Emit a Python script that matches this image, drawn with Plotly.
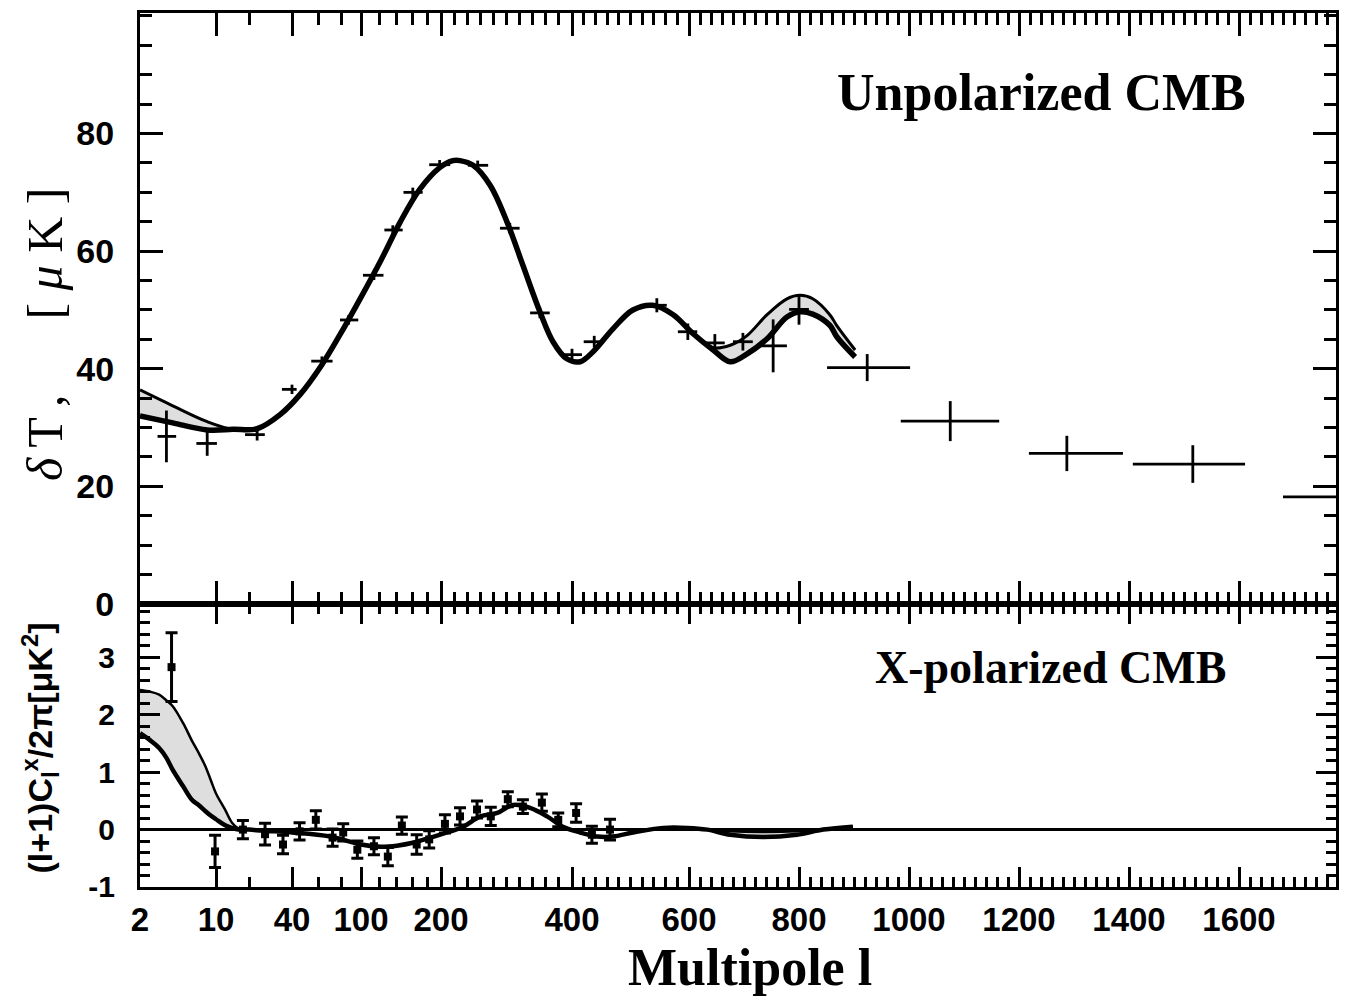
import numpy as np
import plotly.graph_objects as go

# ---------------- axis scale (multipole l -> horizontal axis units) ----------------
SCALE_LOW_L = [2, 10, 20, 40, 60, 80, 100, 120, 140, 160, 180, 200]
SCALE_LOW_U = [140, 216, 249, 292, 318, 341, 361, 379, 396, 412, 427, 441]
SCALE_HIGH_L = [200, 400, 600, 800, 1000, 1200, 1400, 1600, 1900]
SCALE_HIGH_U = [441, 572, 689, 799, 909, 1019, 1129, 1239, 1404]


def lx(l):
    l = np.asarray(l, dtype=float)
    low = np.interp(np.log(l), np.log(SCALE_LOW_L), SCALE_LOW_U)
    high = np.interp(l, SCALE_HIGH_L, SCALE_HIGH_U)
    return np.where(l < 200, low, high)


# ---------------- tick labels ----------------
X_MAJOR = [2, 10, 40, 100, 200, 400, 600, 800, 1000, 1200, 1400, 1600]
X_MAJOR_TEXT = ["2", "10", "40", "100", "200", "400", "600", "800", "1000", "1200", "1400", "1600"]
X_MINOR = [20, 60, 80] + [v for v in range(120, 1780, 20) if v not in X_MAJOR]
Y_TOP_TICKS = [0, 20, 40, 60, 80]
Y_TOP_TEXT = ["0", "20", "40", "60", "80"]
Y_BOT_TICKS = [-1, 0, 1, 2, 3]
Y_BOT_TEXT = ["-1", "0", "1", "2", "3"]

# ---------------- upper panel: unpolarized data ----------------
UP_L = [3.5, 8.3, 22.8, 40, 63, 87, 114, 136, 161, 198, 256, 305, 351, 400, 438,
        545, 598, 647, 698, 753, 800, 924, 1075, 1287, 1516, 1790]
UP_V = [28.5, 27.3, 28.8, 36.5, 41.3, 48.3, 55.9, 63.6, 70.0, 74.7, 74.6, 63.9, 49.5, 42.4, 44.6,
        50.8, 46.3, 44.4, 44.6, 43.9, 50.1, 40.2, 31.1, 25.6, 23.8, 18.2]
UP_ERR = [4.4, 2.1, 1.0, 0.8, 0.8, 0.8, 0.8, 0.8, 0.8, 0.8, 0.8, 0.9, 0.9, 1.0, 1.0,
          1.2, 1.4, 1.5, 1.5, 4.5, 2.6, 2.3, 3.4, 3.0, 3.2, 0.0]
UP_BIN_LO = [2.9, 6.6, 18.4, 34, 54, 79, 102, 126, 149, 183, 241, 290, 336, 386, 420,
             528, 581, 629, 680, 729, 782, 851, 985, 1218, 1407, 1680]
UP_BIN_HI = [4.3, 10.2, 25.8, 43, 72, 97, 125, 148, 174, 214, 272, 320, 366, 417, 455,
             562, 615, 665, 716, 778, 818, 1002, 1164, 1389, 1611, 1900]

# upper panel model curves (band edges)
UPC_L = [2, 4, 8.3, 14.3, 22.8, 33, 45.3, 63, 79, 99, 122.6, 144.8, 170, 198, 218, 229, 249, 275,
         301, 325, 351, 371, 392, 414, 436, 470, 504, 538, 573, 607, 644, 675, 705, 742, 778, 802,
         825, 856, 869, 902]
UPC_A = [36.4, 33.7, 31.0, 29.7, 29.8, 32.2, 35.6, 40.7, 45.8, 51.9, 58.6, 64.9, 70.5, 74.2, 75.4,
         75.4, 74.6, 71.2, 64.9, 57.6, 49.7, 44.6, 41.7, 41.2, 42.9, 46.8, 50.0, 50.8, 49.2, 46.0,
         43.6, 44.0, 45.6, 49.2, 51.9, 52.5, 51.9, 49.2, 47.3, 43.2]
UPC_B = [32.0, 30.8, 29.6, 29.7, 29.8, 32.2, 35.6, 40.7, 45.8, 51.9, 58.6, 64.9, 70.5, 74.2, 75.4,
         75.4, 74.6, 71.2, 64.9, 57.6, 49.7, 44.6, 41.7, 41.2, 42.9, 46.8, 50.0, 50.8, 49.2, 46.0,
         43.2, 41.2, 42.5, 45.1, 48.8, 49.7, 49.3, 47.4, 45.4, 42.0]

# ---------------- lower panel: X-polarized data ----------------
LO_L = [3.9, 9.8, 17.6, 25.9, 34.6, 45, 58, 72, 82, 96, 114, 130, 147, 166, 183, 206, 229,
        255, 276, 302, 325, 354, 379, 407, 434, 465]
LO_V = [2.83, -0.38, 0.0, -0.08, -0.26, -0.03, 0.17, -0.14, -0.05, -0.35, -0.29, -0.47, 0.07,
        -0.26, -0.17, 0.1, 0.23, 0.35, 0.23, 0.53, 0.4, 0.47, 0.17, 0.29, -0.09, 0.0]
LO_ERR = [0.6, 0.28, 0.16, 0.19, 0.16, 0.15, 0.16, 0.15, 0.15, 0.15, 0.15, 0.16, 0.15, 0.17,
          0.15, 0.16, 0.15, 0.15, 0.16, 0.13, 0.12, 0.15, 0.12, 0.16, 0.15, 0.18]

LOC_L = [2, 2.5, 3, 3.5, 4, 5, 6, 7, 8, 9, 10, 12, 14, 16, 20, 25, 40, 70, 100, 122, 141, 161,
         209, 234, 260, 286, 310, 336, 362, 386, 414, 443, 470, 504, 556, 597, 633, 675, 735,
         796, 844, 898]
LOC_A = [2.43, 2.40, 2.35, 2.25, 2.15, 1.85, 1.55, 1.32, 1.10, 0.85, 0.63, 0.36, 0.12, 0.02,
         0.0, -0.02, -0.05, -0.12, -0.26, -0.30, -0.28, -0.23, -0.05, 0.05, 0.23, 0.29, 0.43,
         0.38, 0.23, 0.05, -0.05, -0.12, -0.12, -0.05, 0.03, 0.03, 0.0, -0.03, -0.04, -0.03,
         0.0, 0.05]
LOC_B = [1.68, 1.55, 1.42, 1.25, 1.04, 0.75, 0.52, 0.42, 0.32, 0.24, 0.18, 0.08, 0.03, 0.0,
         0.0, -0.02, -0.05, -0.12, -0.26, -0.30, -0.28, -0.23, -0.05, 0.05, 0.23, 0.29, 0.43,
         0.38, 0.23, 0.05, -0.05, -0.12, -0.12, -0.05, 0.03, 0.03, 0.0, -0.09, -0.13, -0.09,
         0.0, 0.05]

# ---------------- figure ----------------
BOLD_SANS = "Liberation Sans, Arial, sans-serif"
SERIF = "Liberation Serif, Times New Roman, serif"
X0, X1 = 140, 1336
SPLIT = 0.3238
BAND = "rgba(160,160,160,0.35)"

fig = go.Figure()

# upper curves with grey band
fig.add_trace(go.Scatter(x=lx(UPC_L), y=UPC_B, mode="lines", line=dict(color="black", width=5.5, shape="spline"),
                         xaxis="x2", yaxis="y2", showlegend=False, hoverinfo="skip"))
fig.add_trace(go.Scatter(x=lx(UPC_L), y=UPC_A, mode="lines", line=dict(color="black", width=3, shape="spline"),
                         fill="tonexty", fillcolor=BAND,
                         xaxis="x2", yaxis="y2", showlegend=False, hoverinfo="skip"))

up_x = lx(UP_L)
fig.add_trace(go.Scatter(
    x=up_x, y=UP_V, mode="markers", marker=dict(size=1, color="black"),
    error_x=dict(type="data", symmetric=False, array=lx(UP_BIN_HI) - up_x,
                 arrayminus=up_x - lx(UP_BIN_LO), color="black", thickness=2.8, width=0),
    error_y=dict(type="data", array=UP_ERR, color="black", thickness=2.8, width=0),
    xaxis="x2", yaxis="y2", showlegend=False))

# lower curves with grey band
fig.add_trace(go.Scatter(x=lx(LOC_L), y=LOC_B, mode="lines", line=dict(color="black", width=4.5, shape="spline"),
                         xaxis="x", yaxis="y", showlegend=False, hoverinfo="skip"))
fig.add_trace(go.Scatter(x=lx(LOC_L), y=LOC_A, mode="lines", line=dict(color="black", width=2.5, shape="spline"),
                         fill="tonexty", fillcolor=BAND,
                         xaxis="x", yaxis="y", showlegend=False, hoverinfo="skip"))

fig.add_trace(go.Scatter(
    x=lx(LO_L), y=LO_V, mode="markers", marker=dict(size=8, color="black", symbol="square"),
    error_y=dict(type="data", array=LO_ERR, color="black", thickness=3, width=6),
    xaxis="x", yaxis="y", showlegend=False))

axis_common = dict(showline=True, linecolor="black", linewidth=3, mirror="allticks",
                   ticks="inside", tickcolor="black", showgrid=False, zeroline=False)

fig.update_layout(
    width=1349, height=1005,
    margin=dict(l=X0, r=1349 - X1, t=10, b=118),
    paper_bgcolor="white", plot_bgcolor="white",
    xaxis=dict(**axis_common, range=[X0, X1], domain=[0, 1], anchor="y",
               tickmode="array", tickvals=lx(X_MAJOR), ticktext=X_MAJOR_TEXT,
               ticklen=20, tickwidth=3, ticklabelstandoff=1,
               tickfont=dict(family=BOLD_SANS, size=33, color="black", weight="bold"),
               minor=dict(tickvals=lx(X_MINOR), ticklen=10, tickwidth=2.5, ticks="inside",
                          tickcolor="black", showgrid=False)),
    xaxis2=dict(**axis_common, range=[X0, X1], domain=[0, 1], anchor="y2", matches="x",
                tickmode="array", tickvals=lx(X_MAJOR), showticklabels=False,
                ticklen=23, tickwidth=3,
                minor=dict(tickvals=lx(X_MINOR), ticklen=12, tickwidth=2.5, ticks="inside",
                           tickcolor="black", showgrid=False)),
    yaxis=dict(showline=True, linecolor="black", linewidth=3, mirror="allticks",
               ticks="inside", tickcolor="black", showgrid=False,
               zeroline=True, zerolinecolor="black", zerolinewidth=3,
               range=[-1, 3.93], domain=[0, SPLIT], anchor="x",
               tickmode="array", tickvals=Y_BOT_TICKS, ticktext=Y_BOT_TEXT,
               ticklen=20, tickwidth=3, ticklabelstandoff=16,
               tickfont=dict(family=BOLD_SANS, size=30, color="black", weight="bold"),
               minor=dict(dtick=0.2, tick0=0, ticklen=10, tickwidth=2.5, ticks="inside",
                          tickcolor="black", showgrid=False)),
    yaxis2=dict(**axis_common, range=[0, 100.5], domain=[SPLIT, 1], anchor="x2",
                tickmode="array", tickvals=Y_TOP_TICKS, ticktext=Y_TOP_TEXT,
                ticklen=23, tickwidth=3, ticklabelstandoff=16,
                tickfont=dict(family=BOLD_SANS, size=34, color="black", weight="bold"),
                minor=dict(dtick=5, tick0=0, ticklen=12, tickwidth=2.5, ticks="inside",
                           tickcolor="black", showgrid=False)),
)

W = X1 - X0
H = 1005 - 10 - 118


def px(xp):
    return (xp - X0) / W


def py(yp):
    return (887 - yp) / H


fig.add_annotation(text="<b>Unpolarized CMB</b>", x=px(1041), y=py(90), xref="paper", yref="paper",
                   showarrow=False, xanchor="center", yanchor="middle",
                   font=dict(family=SERIF, size=52, color="black"))
fig.add_annotation(text="<b>X-polarized CMB</b>", x=px(1050), y=py(667), xref="paper", yref="paper",
                   showarrow=False, xanchor="center", yanchor="middle",
                   font=dict(family=SERIF, size=46, color="black"))
fig.add_annotation(text="<b>Multipole l</b>", x=px(750), y=py(968), xref="paper", yref="paper",
                   showarrow=False, xanchor="center", yanchor="middle",
                   font=dict(family=SERIF, size=52, color="black"))
fig.add_annotation(text="<i>δ</i>&#8201;T&#8201;,&nbsp;&nbsp;&nbsp;&nbsp;&nbsp;&nbsp;[&nbsp;<i>μ</i>&nbsp;K&nbsp;]",
                   x=px(45), y=py(333), xref="paper", yref="paper", textangle=-90,
                   showarrow=False, xanchor="center", yanchor="middle",
                   font=dict(family=SERIF, size=50, color="black"))
fig.add_annotation(text="<b>(l+1)C<sub>l</sub><sup>x</sup>/2π[μK<sup>2</sup>]</b>",
                   x=px(40), y=py(748), xref="paper", yref="paper", textangle=-90,
                   showarrow=False, xanchor="center", yanchor="middle",
                   font=dict(family=BOLD_SANS, size=34, color="black"))

fig.write_html("out.html", post_script="document.body.style.margin='0';",
               config={"displayModeBar": False})
